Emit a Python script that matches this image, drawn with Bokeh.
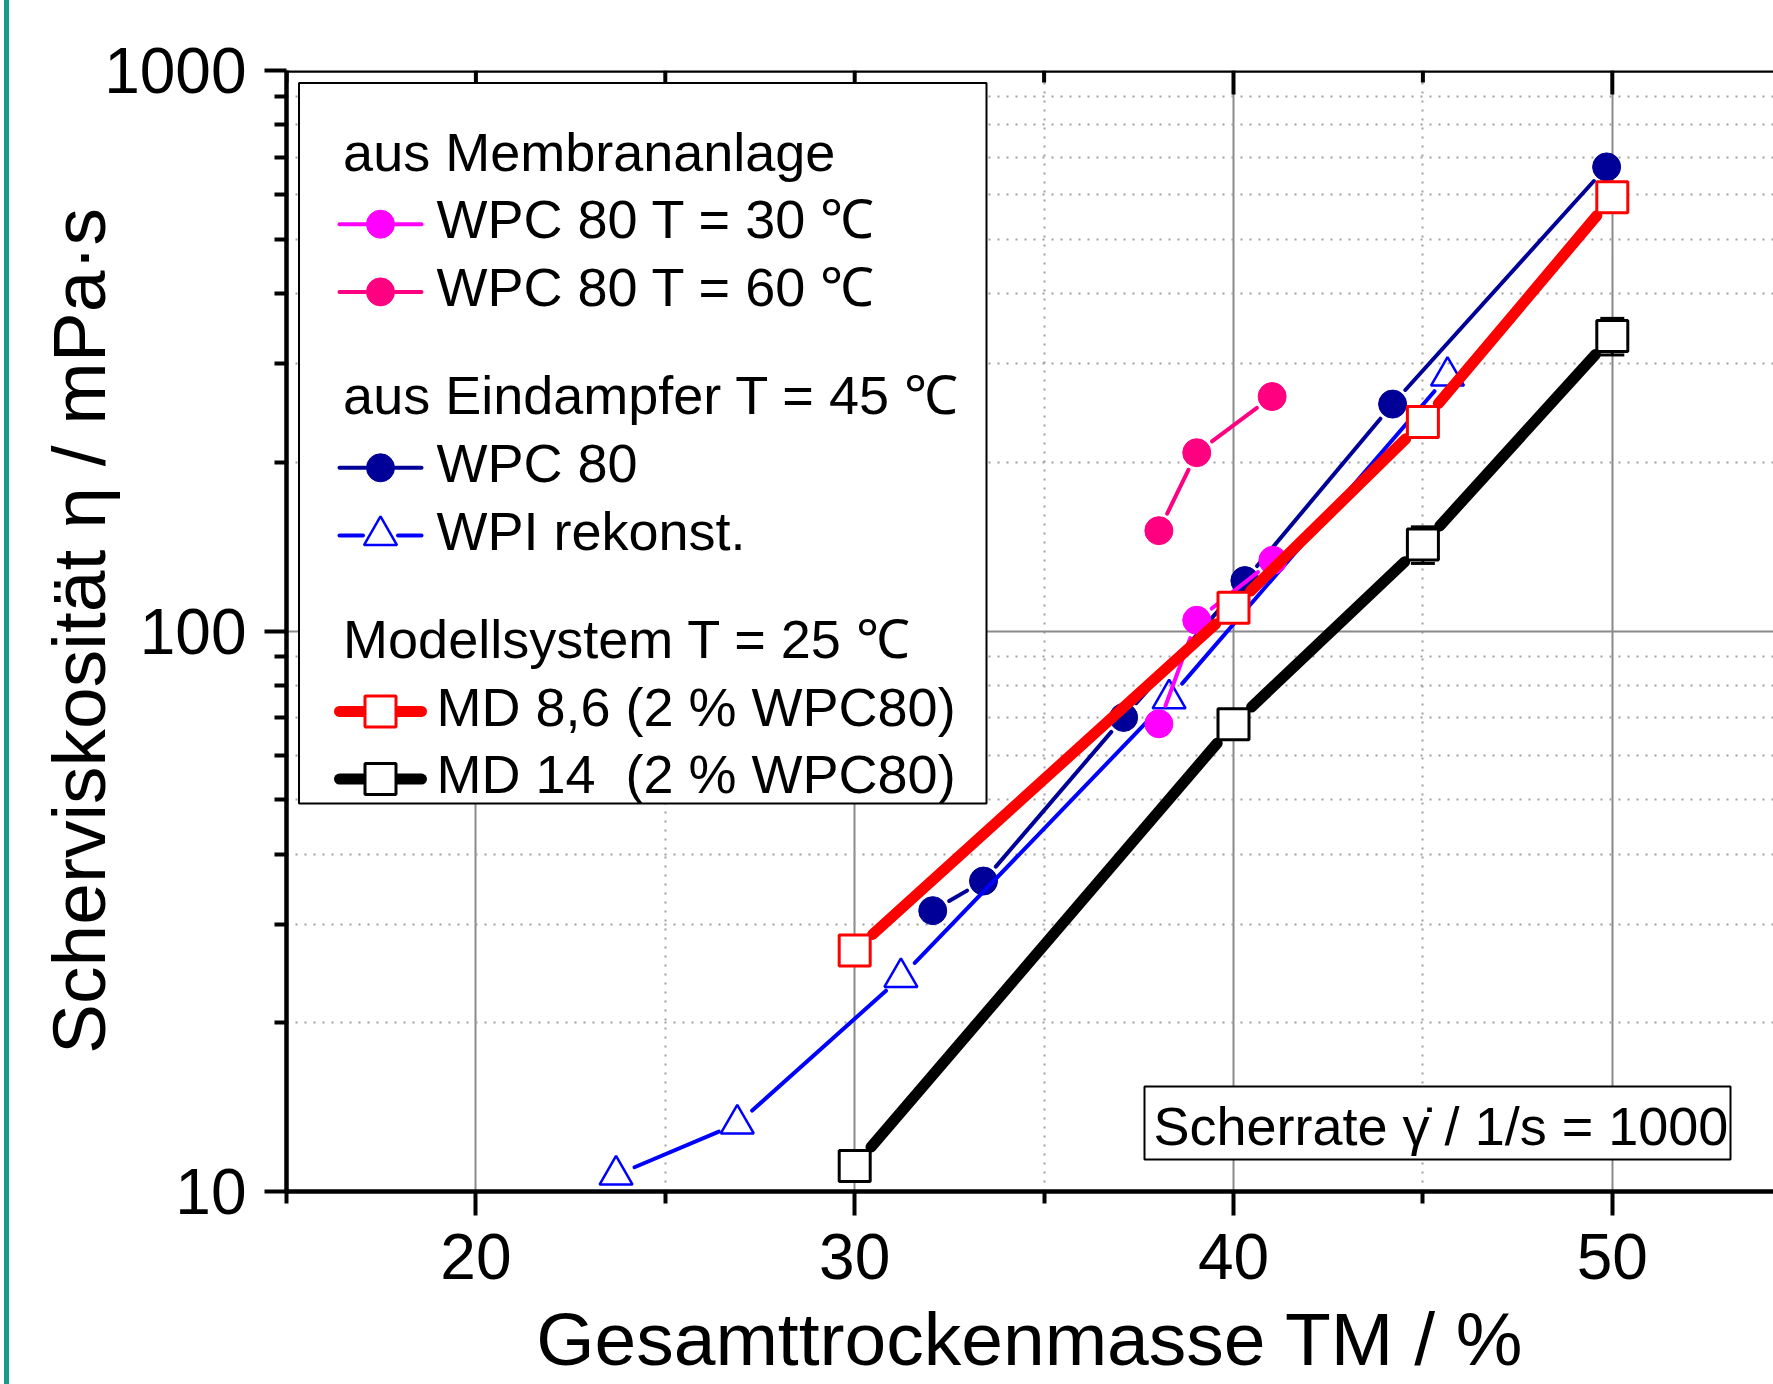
import math
from bokeh.plotting import figure
from bokeh.models import (Range1d, FixedTicker, Label, Whisker, TeeHead, Span,
                          ColumnDataSource, Div, BasicTickFormatter)
from bokeh.layouts import row
from bokeh.embed import file_html
from bokeh.resources import INLINE

# ---------------- data ----------------
wpc30_x = [38.03, 39.03, 41.04]
wpc30_y = [68.3, 104.5, 133.7]
wpc60_x = [38.03, 39.03, 41.02]
wpc60_y = [151.0, 208.0, 262.0]
wpc80_x = [32.06, 33.4, 37.1, 40.3, 44.2, 49.85]
wpc80_y = [31.7, 35.8, 70.1, 123.0, 254.0, 673.0]
wpi_x = [23.7, 26.9, 31.22, 38.3, 45.65]
wpi_y = [10.7, 13.2, 24.1, 75.7, 285.0]
md86_x = [30, 40, 45, 50]
md86_y = [26.9, 110.0, 236.0, 594.0]
md86_err_pct = [1.5, 1.0, 1.5, 2.0]
md14_x = [30, 40, 45, 50]
md14_y = [11.1, 68.2, 142.7, 336.0]
md14_err_pct = [2.0, 1.5, 7.5, 7.5]

x_ticks = [20, 30, 40, 50]
x_minor = [15, 25, 35, 45]
y_ticks = [10, 100, 1000]
y_minor = [m * d for d in (10, 100) for m in range(2, 10)]

x_label = "Gesamttrockenmasse TM / %"
y_label = "Scherviskosität η / mPa·s"
note_text = "Scherrate γ̇ / 1/s = 1000"
legend_rows = [
    ("header", "aus Membrananlage", None),
    ("item", "WPC 80 T = 30 ℃", "wpc30"),
    ("item", "WPC 80 T = 60 ℃", "wpc60"),
    ("header", "aus Eindampfer T = 45 ℃", None),
    ("item", "WPC 80", "wpc80"),
    ("item", "WPI rekonst.", "wpi"),
    ("header", "Modellsystem T = 25 ℃", None),
    ("item", "MD 8,6 (2 % WPC80)", "md86"),
    ("item", "MD 14 \u00a0(2 % WPC80)", "md14"),
]

styles = {
    "wpc80": dict(color="#000099", lw=4, marker="circle", size=28, fill="#000099", mlw=1, gap=19),
    "wpi":   dict(color="#0000FF", lw=4, marker="triangle", size=33, fill=None, mlw=2.5, gap=20),
    "wpc30": dict(color="#FF00FF", lw=4, marker="circle", size=28, fill="#FF00FF", mlw=1, gap=19),
    "wpc60": dict(color="#FF0080", lw=4, marker="circle", size=28, fill="#FF0080", mlw=1, gap=19),
    "md86":  dict(color="#FF0000", lw=11, marker="square", size=31, fill="white", mlw=3, gap=24),
    "md14":  dict(color="#000000", lw=11, marker="square", size=31, fill="white", mlw=3, gap=25),
}

FONT = "Liberation Sans"

# ---------------- geometry (page pixels) ----------------
DIV_W = 10
FIG_W, FIG_H = 1773 - DIV_W, 1384
BL, BT, BB = 276, 70, 193
FX0 = DIV_W + BL              # frame left on page
FY0 = BT                      # frame top on page
FH = FIG_H - BT - BB
FW = FIG_W - BL
PX = 37.88                    # px per x unit
PY = FH / 2.0                 # px per decade
X_MIN = 15.0
X_MAX = X_MIN + FW / PX
TXT_SHIFT = 0.33              # label anchor correction (em)


def dx(px):
    return X_MIN + (px - FX0) / PX


def dy(py):
    return 10 ** (3 - (py - FY0) / PY)


def sx(x):
    return FX0 + (x - X_MIN) * PX


def sy(y):
    return FY0 + (3 - math.log10(y)) * PY


p = figure(width=FIG_W, height=FIG_H, x_range=Range1d(X_MIN, X_MAX), y_range=Range1d(10, 1000),
           y_axis_type="log", output_backend="svg", toolbar_location=None,
           min_border_left=BL, min_border_right=0, min_border_top=BT, min_border_bottom=BB,
           background_fill_color="white", border_fill_color="white")
p.outline_line_color = None

p.xaxis.ticker = FixedTicker(ticks=x_ticks, minor_ticks=x_minor)
p.yaxis.ticker = FixedTicker(ticks=y_ticks, minor_ticks=y_minor)
p.yaxis.formatter = BasicTickFormatter()
p.yaxis.major_label_overrides = {10: "10", 100: "100", 1000: "1000"}

for ax, tout, mout, stand in ((p.xaxis, 24, 12, 18), (p.yaxis, 22, 12, 18)):
    ax.axis_line_width = 4.5
    ax.axis_line_color = "black"
    ax.major_tick_line_width = 4
    ax.minor_tick_line_width = 4
    ax.major_tick_out = tout
    ax.major_tick_in = 0
    ax.minor_tick_out = mout
    ax.minor_tick_in = 0
    ax.major_label_text_font = FONT
    ax.major_label_text_font_size = "64px"
    ax.major_label_text_color = "black"
    ax.major_label_standoff = stand
    ax.axis_label_text_font = FONT
    ax.axis_label_text_font_size = "75px"
    ax.axis_label_text_font_style = "normal"
    ax.axis_label_text_color = "black"

p.yaxis.axis_label = y_label
p.yaxis.axis_label_standoff = -20
p.xaxis.axis_label = x_label
p.xaxis.axis_label_standoff = 15

for g in (p.xgrid, p.ygrid):
    g.grid_line_color = "#8a8a8a"
    g.grid_line_width = 2
    g.minor_grid_line_color = "#a0a0a0"
    g.minor_grid_line_width = 2
    g.minor_grid_line_dash = "2 7"

# top frame line with inward ticks
p.add_layout(Span(location=1000, dimension="width", line_color="black", line_width=4.5))
p.segment(x0=x_ticks, y0=[1000] * len(x_ticks), x1=x_ticks, y1=[dy(FY0 + 24)] * len(x_ticks),
          line_color="black", line_width=4)
p.segment(x0=x_minor, y0=[1000] * len(x_minor), x1=x_minor, y1=[dy(FY0 + 12)] * len(x_minor),
          line_color="black", line_width=4)

# ---------------- legend box and note box (drawn first) ----------------
p.quad(left=dx(298.5), right=dx(986), top=dy(82.5), bottom=dy(803),
       fill_color="white", line_color="black", line_width=2)
p.quad(left=dx(1144), right=dx(1730), top=dy(1086), bottom=dy(1159),
       fill_color="white", line_color="black", line_width=2)


def gapped(xs, ys, gap):
    x0, y0, x1, y1 = [], [], [], []
    for i in range(len(xs) - 1):
        ax_, ay_ = sx(xs[i]), sy(ys[i])
        bx_, by_ = sx(xs[i + 1]), sy(ys[i + 1])
        L = math.hypot(bx_ - ax_, by_ - ay_)
        ux, uy = (bx_ - ax_) / L, (by_ - ay_) / L
        x0.append(dx(ax_ + ux * gap)); y0.append(dy(ay_ + uy * gap))
        x1.append(dx(bx_ - ux * gap)); y1.append(dy(by_ - uy * gap))
    return x0, y0, x1, y1


def draw(xs, ys, key):
    s = styles[key]
    x0, y0, x1, y1 = gapped(xs, ys, s["gap"])
    p.segment(x0=x0, y0=y0, x1=x1, y1=y1, line_color=s["color"], line_width=s["lw"], line_cap="round")
    p.scatter(xs, ys, marker=s["marker"], size=s["size"], fill_color=s["fill"],
              line_color=s["color"], line_width=s["mlw"])


draw(wpc80_x, wpc80_y, "wpc80")
draw(wpi_x, wpi_y, "wpi")
draw(wpc30_x, wpc30_y, "wpc30")
draw(wpc60_x, wpc60_y, "wpc60")
draw(md86_x, md86_y, "md86")
draw(md14_x, md14_y, "md14")

for xs, ys, errs, col in ((md86_x, md86_y, md86_err_pct, "#FF0000"), (md14_x, md14_y, md14_err_pct, "#000000")):
    src = ColumnDataSource(dict(x=xs, upper=[y * (1 + e / 100) for y, e in zip(ys, errs)],
                                lower=[y * (1 - e / 100) for y, e in zip(ys, errs)]))
    p.add_layout(Whisker(source=src, base="x", upper="upper", lower="lower", dimension="height",
                         line_color=col, line_width=3,
                         upper_head=TeeHead(size=24, line_color=col, line_width=3),
                         lower_head=TeeHead(size=24, line_color=col, line_width=3)))


def text(px, baseline, txt, size, align="left"):
    p.add_layout(Label(x=dx(px), y=dy(baseline - TXT_SHIFT * size), text=txt, text_font=FONT,
                       text_font_size=f"{size}px", text_baseline="alphabetic", text_align=align,
                       text_color="black"))


# ---------------- legend contents ----------------
base = 169.0
step = 67.7
extra = 40.5
for i, (kind, txt, key) in enumerate(legend_rows):
    if kind == "header" and i > 0:
        base += extra
    if kind == "header":
        text(342.6, base, txt, 54)
    else:
        s = styles[key]
        cy = base - 13
        half = s["size"] / 2 + 1
        p.segment(x0=[dx(339), dx(380 + half)], y0=[dy(cy), dy(cy)],
                  x1=[dx(380 - half), dx(421)], y1=[dy(cy), dy(cy)],
                  line_color=s["color"], line_width=s["lw"], line_cap="round")
        p.scatter([dx(380)], [dy(cy)], marker=s["marker"], size=s["size"], fill_color=s["fill"],
                  line_color=s["color"], line_width=s["mlw"])
        text(436, base, txt, 54)
    base += step

# ---------------- note ----------------
text(1153, 1143, note_text, 54)

strip = Div(width=DIV_W, height=FIG_H, margin=0,
            styles={"background": "linear-gradient(to right, #ffffff 0px, #ffffff 4px, #1a9a88 4px, "
                                  "#1a9a88 9px, #ffffff 9px)"})
layout = row(strip, p, spacing=0)

open("out.html", "w").write(file_html(layout, INLINE))
